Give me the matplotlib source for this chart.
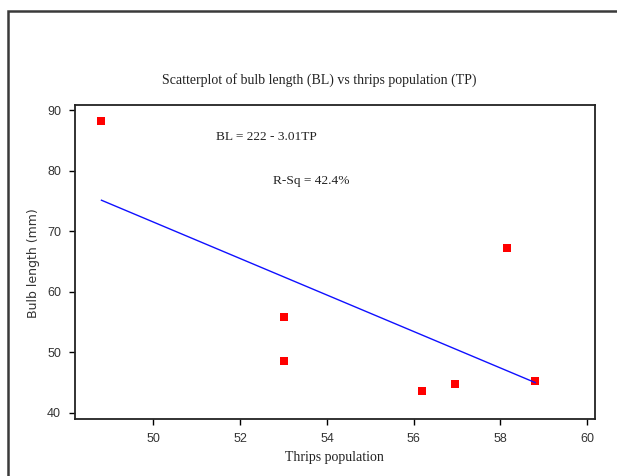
import matplotlib
matplotlib.use("Agg")
import matplotlib.pyplot as plt
from matplotlib.patches import Rectangle
import numpy as np

# Data
thrips_population = [48.8, 53.0, 53.0, 56.2, 56.95, 58.15, 58.8]
bulb_length = [88.2, 55.9, 48.6, 43.7, 44.7, 67.2, 45.2]
fit_intercept = 222.0
fit_slope = -3.01
x_ticks = [50, 52, 54, 56, 58, 60]
y_ticks = [40, 50, 60, 70, 80, 90]
title = "Scatterplot of bulb length (BL) vs thrips population (TP)"
eq_text = "BL = 222 - 3.01TP"
rsq_text = "R-Sq = 42.4%"

W, H = 617, 476
fig = plt.figure(figsize=(W / 100, H / 100), dpi=100)
fig.patch.set_facecolor("white")

# outer frame
fig.patches.append(Rectangle((8 / W, -0.1), 1.2, (H - 10.7) / H + 0.1,
                             transform=fig.transFigure, fill=False,
                             edgecolor="#3a3a3a", linewidth=1.8))

ax = fig.add_axes([75 / W, 1 - 419 / H, (595 - 75) / W, (419 - 105) / H])

ax.plot(thrips_population, bulb_length, linestyle="none", marker="s",
        markersize=6, color="red", markeredgewidth=0)

xl = np.array([min(thrips_population), max(thrips_population)])
ax.plot(xl, fit_intercept + fit_slope * xl, color="#1010ff", linewidth=1.0)

ax.set_xlim(48.19, 60.18)
ax.set_ylim(39.0, 90.83)
ax.set_xticks(x_ticks)
ax.set_yticks(y_ticks)
ax.tick_params(direction="out", length=4, width=1, colors="black",
               labelsize=9, pad=6)
for lab in ax.get_xticklabels() + ax.get_yticklabels():
    lab.set_family("Liberation Sans")
    lab.set_color("#333333")
for s in ax.spines.values():
    s.set_linewidth(1.3)
    s.set_color("#222222")

serif = "Liberation Serif"
fig.text(319 / W, 1 - 80 / H, title, ha="center", va="center",
         fontsize=10, family=serif, color="#222222")
fig.text(334 / W, 1 - 458 / H, "Thrips population", ha="center", va="center",
         fontsize=10, family=serif, color="#222222")
fig.text(33 / W, 1 - 263 / H, "Bulb length (mm)", ha="center", va="center",
         rotation=90, fontsize=9, family="DejaVu Sans", color="#333333")

ax.text(48.19 + (216 - 75) / 43.4, 90.83 - (137 - 105) / 6.06, eq_text,
        ha="left", va="center", fontsize=9.6, family=serif, color="#222222")
ax.text(48.19 + (273 - 75) / 43.4, 90.83 - (181 - 105) / 6.06, rsq_text,
        ha="left", va="center", fontsize=9.6, family=serif, color="#222222")

fig.savefig("out.png", dpi=100, facecolor="white")
